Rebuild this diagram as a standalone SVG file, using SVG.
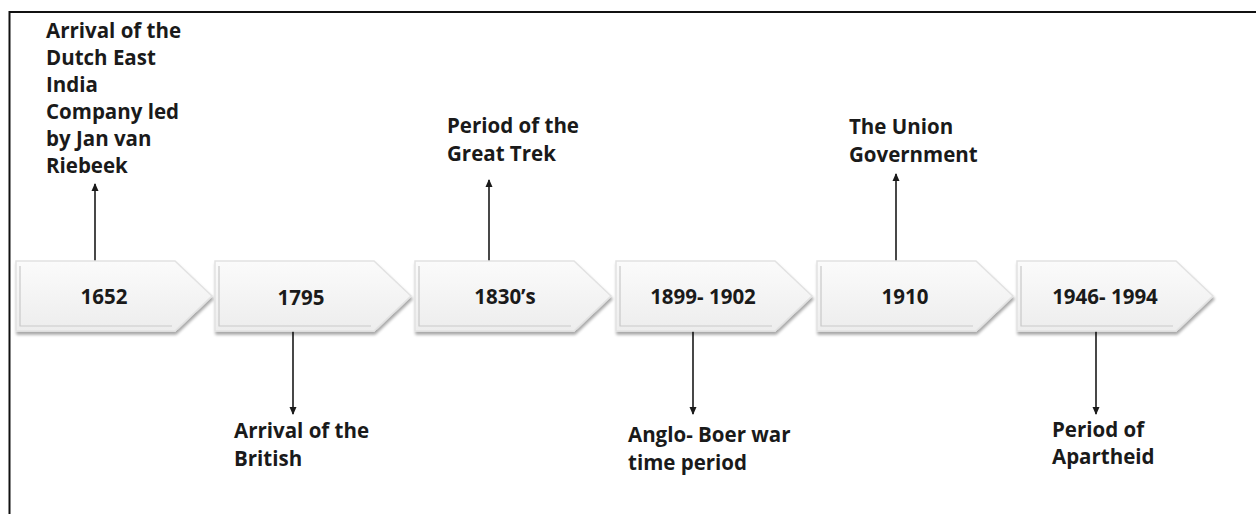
<svg xmlns="http://www.w3.org/2000/svg" width="1256" height="514" viewBox="0 0 1256 514">
<defs>
<linearGradient id="g" x1="0" y1="0" x2="0" y2="1">
<stop offset="0" stop-color="#fbfbfb"/>
<stop offset="1" stop-color="#ededed"/>
</linearGradient>
<filter id="sh" x="-10%" y="-20%" width="130%" height="150%">
<feGaussianBlur in="SourceAlpha" stdDeviation="1.5"/>
<feOffset dx="1" dy="3" result="b"/>
<feComponentTransfer><feFuncA type="linear" slope="0.35"/></feComponentTransfer>
<feMerge><feMergeNode/><feMergeNode in="SourceGraphic"/></feMerge>
</filter>
<marker id="ah" markerWidth="8" markerHeight="8" refX="7" refY="4" orient="auto" markerUnits="userSpaceOnUse">
<path d="M0,0.5 L8,4 L0,7.5 Z" fill="#1a1a1a"/>
</marker>
<path id="chev" d="M0,0 L159,0 L196,35 L159,70 L0,70 Z"/>
</defs>
<style>
.t{font-family:"Open Sans","Liberation Sans",sans-serif;font-weight:bold;font-size:20.5px;fill:#1a1a1a}
.y{font-family:"Open Sans","Liberation Sans",sans-serif;font-weight:bold;font-size:20.5px;fill:#1a1a1a;text-anchor:middle}
.c{fill:url(#g);stroke:#e2e2e2;stroke-width:1.5;filter:url(#sh)}
.in{fill:none;stroke:#c9c9c9;stroke-width:1.2}
.a{stroke:#1a1a1a;stroke-width:1.6;fill:none;marker-end:url(#ah)}
</style>
<rect width="1256" height="514" fill="#ffffff"/>
<path d="M9.5,514 L9.5,12 L1256,12" fill="none" stroke="#111" stroke-width="2"/>

<g id="connectors">
<line class="a" x1="95" y1="261" x2="95" y2="184"/>
<line class="a" x1="293" y1="331" x2="293" y2="414"/>
<line class="a" x1="489" y1="261" x2="489" y2="180"/>
<line class="a" x1="693" y1="331" x2="693" y2="414"/>
<line class="a" x1="896" y1="261" x2="896" y2="174"/>
<line class="a" x1="1096" y1="331" x2="1096" y2="414"/>
</g>

<g id="n1652"><use href="#chev" class="c" x="16" y="261"/><path class="in" d="M20,266 L20,326 L172,326"/><text class="y" x="104" y="304">1652</text></g>
<g id="n1795"><use href="#chev" class="c" x="215" y="261"/><path class="in" d="M219,266 L219,326 L371,326"/><text class="y" x="301" y="305">1795</text></g>
<g id="n1830"><use href="#chev" class="c" x="415" y="261"/><path class="in" d="M419,266 L419,326 L571,326"/><text class="y" x="505" y="304">1830’s</text></g>
<g id="n1899"><use href="#chev" class="c" x="616" y="261"/><path class="in" d="M620,266 L620,326 L772,326"/><text class="y" x="703" y="304">1899- 1902</text></g>
<g id="n1910"><use href="#chev" class="c" x="817" y="261"/><path class="in" d="M821,266 L821,326 L973,326"/><text class="y" x="905" y="304">1910</text></g>
<g id="n1946"><use href="#chev" class="c" x="1017" y="261"/><path class="in" d="M1021,266 L1021,326 L1173,326"/><text class="y" x="1105" y="304">1946- 1994</text></g>

<g id="l1652"><text class="t" x="46" y="38">Arrival of the</text><text class="t" x="46" y="65">Dutch East</text><text class="t" x="46" y="92">India</text><text class="t" x="46" y="119">Company led</text><text class="t" x="46" y="146">by Jan van</text><text class="t" x="46" y="173">Riebeek</text></g>
<g id="l1795"><text class="t" x="234" y="438">Arrival of the</text><text class="t" x="234" y="466">British</text></g>
<g id="l1830"><text class="t" x="447" y="133">Period of the</text><text class="t" x="447" y="161">Great Trek</text></g>
<g id="l1899"><text class="t" x="628" y="442">Anglo- Boer war</text><text class="t" x="628" y="470">time period</text></g>
<g id="l1910"><text class="t" x="849" y="134">The Union</text><text class="t" x="849" y="162">Government</text></g>
<g id="l1946"><text class="t" x="1052" y="437">Period of</text><text class="t" x="1052" y="464">Apartheid</text></g>
</svg>
